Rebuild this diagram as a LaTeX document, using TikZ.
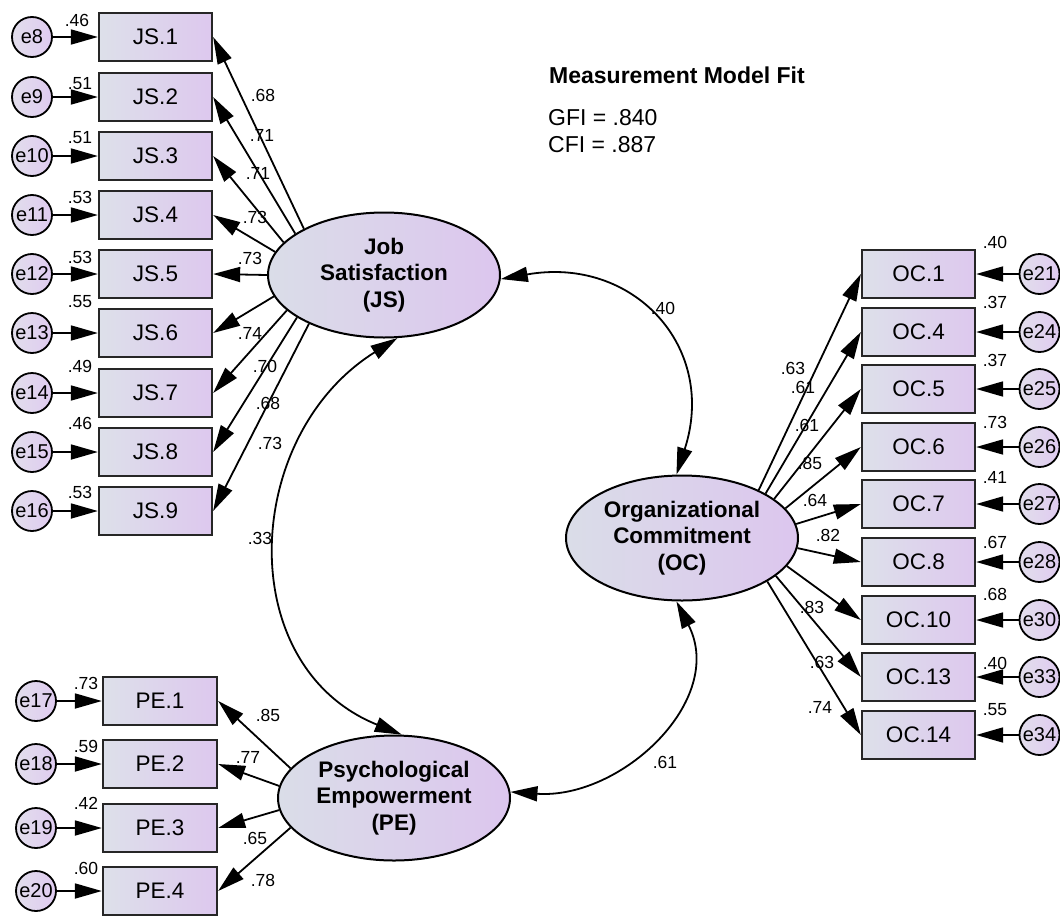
\documentclass[tikz,border=0pt]{standalone}
\usepackage{fontspec}
\setmainfont{Liberation Sans}
\usetikzlibrary{arrows.meta,shapes.geometric}
\definecolor{boxL}{HTML}{DDE0EA}
\definecolor{boxR}{HTML}{DDC8EE}
\definecolor{latL}{HTML}{DADDE8}
\definecolor{latR}{HTML}{DCC6EE}
\definecolor{errL}{HTML}{E2DEEC}
\definecolor{errR}{HTML}{DFCBF0}
\begin{document}
\begin{tikzpicture}[x=1pt,y=1pt,
  obs/.style={draw=black!85, line width=2.3pt, rectangle, minimum width=113pt, minimum height=48pt, inner sep=0pt, left color=boxL, right color=boxR, font=\fontsize{22.5}{26}\selectfont},
  err/.style={draw=black, line width=1.8pt, circle, minimum size=40pt, inner sep=0pt, left color=errL, right color=errR, font=\fontsize{20}{22}\selectfont},
  lat/.style={draw=black, line width=2pt, ellipse, minimum width=232pt, minimum height=125pt, inner sep=0pt, left color=latL, right color=latR, align=center, font=\bfseries\fontsize{22.5}{26.5}\selectfont},
  lab/.style={inner sep=0pt, font=\fontsize{17.5}{20}\selectfont},
  ld/.style={line width=1.8pt, -{Triangle[length=27pt,width=15pt]}},
  cov/.style={line width=1.8pt, {Triangle[length=27pt,width=15pt]}-{Triangle[length=27pt,width=15pt]}}
]
\useasboundingbox (0,0) rectangle (1060,-918);

% ---------- latent variables
\node[lat] (JS) at (384,-275) {Job\\Satisfaction\\(JS)};
\node[lat] (OC) at (682,-538) {Organizational\\Commitment\\(OC)};
\node[lat] (PE) at (394,-798) {Psychological\\Empowerment\\(PE)};

% ---------- JS indicators
\foreach \i/\y/\e in {1/37/8, 2/97/9, 3/156/10, 4/215/11, 5/274/12, 6/333/13, 7/393/14, 8/452/15, 9/511/16}{
  \node[obs] (JS\i) at (155.5,-\y) {JS.\i};
  \node[err] (e\e) at (32,-\y) {e\e};
  \draw[ld] (e\e) -- (JS\i);
}
\foreach \i/\a in {1/150, 2/155, 3/162, 4/168, 5/180, 6/191, 7/200, 8/206, 9/213}{
  \draw[ld] (JS.\a) -- (JS\i.east);
}
% variances JS
\foreach \n/\x/\y/\t in {v8/77/20/.46, v9/80/84/.51, v10/80/138/.51, v11/80/197/.53, v12/80/257/.53, v13/80/302/.55, v14/80/366/.49, v15/80/423/.46, v16/80/492/.53}{
  \node[lab] (\n) at (\x,-\y) {\t};
}
% loadings JS
\foreach \n/\x/\y/\t in {l1/263/95/.68, l2/262/135/.71, l3/258/173/.71, l4/255/217/.73, l5/250/258/.73, l6/250/333/.74, l7/265/366/.70, l8/268/403/.68, l9/270/443/.73}{
  \node[lab] (\n) at (\x,-\y) {\t};
}

% ---------- PE indicators
\foreach \i/\y/\e in {1/701/17, 2/764/18, 3/828/19, 4/891/20}{
  \node[obs, minimum width=114pt] (PE\i) at (160,-\y) {PE.\i};
  \node[err] (e\e) at (36,-\y) {e\e};
  \draw[ld] (e\e) -- (PE\i);
}
\foreach \i/\a in {1/164, 2/174, 3/186, 4/196}{
  \draw[ld] (PE.\a) -- (PE\i.east);
}
\foreach \n/\x/\y/\t in {v17/86/683/.73, v18/86/746/.59, v19/86/803/.42, v20/86/868/.60,
  p1/268/715/.85, p2/248/757/.77, p3/255/838/.65, p4/263/880/.78}{
  \node[lab] (\n) at (\x,-\y) {\t};
}

% ---------- OC indicators
\foreach \i/\y/\e in {1/274/21, 4/332/24, 5/389/25, 6/447/26, 7/504/27, 8/562/28, 10/620/30, 13/677/33, 14/735/34}{
  \node[obs] (OC\i) at (918.5,-\y) {OC.\i};
  \node[err] (e\e) at (1039.5,-\y) {e\e};
  \draw[ld] (e\e) -- (OC\i);
}
\foreach \i/\a in {1/32, 4/28, 5/23, 6/16, 7/7, 8/355, 10/345, 13/338, 14/333}{
  \draw[ld] (OC.\a) -- (OC\i.west);
}
\foreach \n/\x/\y/\t in {v21/995/242/.40, v24/995/302/.37, v25/995/360/.37, v26/995/422/.73, v27/995/477/.41, v28/995/542/.67, v30/995/594/.68, v33/995/663/.40, v34/995/710/.55,
  o1/793/368/.63, o4/803/387/.61, o5/807/425/.61, o6/810/463/.85, o7/815/500/.64, o8/828/535/.82, o10/812/607/.83, o13/822/662/.63, o14/820/707/.74}{
  \node[lab] (\n) at (\x,-\y) {\t};
}

% ---------- covariances
\draw[cov] (JS.358) to[out=10,in=72,looseness=1.31] (OC.95);
\draw[cov] (JS.282) to[out=212,in=158,looseness=1.18] (PE.83);
\draw[cov] (PE.3) to[out=-4,in=-63,looseness=1.12] (OC.265);
\node[lab] (c1) at (663,-308) {.40};
\node[lab] (c2) at (260,-538) {.33};
\node[lab] (c3) at (665,-762) {.61};

% ---------- fit box
\node[anchor=west, inner sep=0pt, font=\bfseries\fontsize{23}{26}\selectfont] (fit) at (549,-75) {Measurement Model Fit};
\node[anchor=west, inner sep=0pt, font=\fontsize{23}{26}\selectfont] (gfi) at (548,-118) {GFI = .840};
\node[anchor=west, inner sep=0pt, font=\fontsize{23}{26}\selectfont] (cfi) at (548,-145) {CFI = .887};
\end{tikzpicture}
\end{document}
